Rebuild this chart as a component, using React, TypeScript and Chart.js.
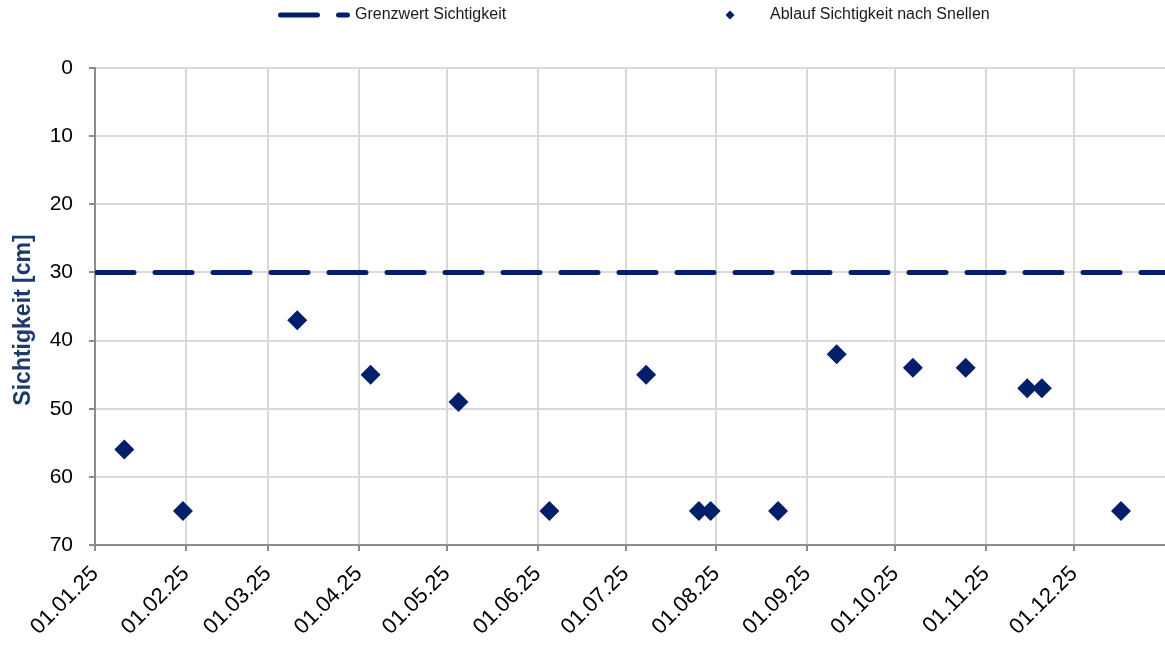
import React, { useEffect, useRef } from 'react';
import { Chart, registerables } from 'chart.js';

Chart.register(...registerables);

// Month starts used as x ticks and vertical grid lines
const monthTickDates = [
  '2025-01-01', '2025-02-01', '2025-03-01', '2025-04-01', '2025-05-01', '2025-06-01',
  '2025-07-01', '2025-08-01', '2025-09-01', '2025-10-01', '2025-11-01', '2025-12-01',
];
const monthTickLabels = [
  '01.01.25', '01.02.25', '01.03.25', '01.04.25', '01.05.25', '01.06.25',
  '01.07.25', '01.08.25', '01.09.25', '01.10.25', '01.11.25', '01.12.25',
];
const axisStart = '2025-01-01';
const axisEnd = '2026-01-01';

// Measurements (Snellen transparency)
const sampleDates = [
  '2025-01-11', '2025-01-31', '2025-03-11', '2025-04-05', '2025-05-05', '2025-06-05',
  '2025-07-08', '2025-07-26', '2025-07-30', '2025-08-22', '2025-09-11', '2025-10-07',
  '2025-10-25', '2025-11-15', '2025-11-20', '2025-12-17',
];
const visibilityCm = [56, 65, 37, 45, 49, 65, 45, 65, 65, 65, 42, 44, 44, 47, 47, 65];

// Threshold value
const limitCm = 30;

const yMin = 0;
const yMax = 70;
const yStep = 10;

const seriesNames = ['Grenzwert Sichtigkeit', 'Ablauf Sichtigkeit nach Snellen'];
const yTitle = 'Sichtigkeit [cm]';

const NAVY = '#031f6a';
const FONT = "'Liberation Sans', Arial, sans-serif";

const dayIndex = (iso: string) =>
  Math.round((Date.parse(iso + 'T00:00:00Z') - Date.parse(axisStart + 'T00:00:00Z')) / 86400000);

const monthDays = monthTickDates.map(dayIndex);

// Legend and y-axis title drawn at fixed spots
const decorations = {
  id: 'decorations',
  afterDraw(chart: Chart) {
    const ctx = chart.ctx;
    ctx.save();
    const y = 15;
    // dashed line sample
    ctx.strokeStyle = NAVY;
    ctx.lineWidth = 5;
    ctx.lineCap = 'round';
    ctx.setLineDash([37, 21]);
    ctx.beginPath();
    ctx.moveTo(280.5, y);
    ctx.lineTo(347.5, y);
    ctx.stroke();
    ctx.setLineDash([]);
    // diamond sample
    ctx.fillStyle = NAVY;
    ctx.beginPath();
    ctx.moveTo(730, y - 4.5);
    ctx.lineTo(734.5, y);
    ctx.lineTo(730, y + 4.5);
    ctx.lineTo(725.5, y);
    ctx.closePath();
    ctx.fill();
    // legend texts
    ctx.fillStyle = '#1a1a1a';
    ctx.font = `16px ${FONT}`;
    ctx.textBaseline = 'middle';
    ctx.textAlign = 'left';
    ctx.fillText(seriesNames[0], 355, y);
    ctx.fillText(seriesNames[1], 770, y);
    // y-axis title
    ctx.translate(24, 320);
    ctx.rotate(-Math.PI / 2);
    ctx.fillStyle = '#1d3a6c';
    ctx.font = `bold 23px ${FONT}`;
    ctx.textAlign = 'center';
    ctx.textBaseline = 'middle';
    ctx.fillText(yTitle, 0, 0);
    ctx.restore();
  },
};

export default function App() {
  const canvasRef = useRef<HTMLCanvasElement | null>(null);

  useEffect(() => {
    if (!canvasRef.current) return;
    const chart = new Chart(canvasRef.current, {
      type: 'scatter',
      data: {
        datasets: [
          {
            type: 'line',
            label: seriesNames[0],
            data: [
              { x: dayIndex(axisStart), y: limitCm },
              { x: dayIndex(axisEnd), y: limitCm },
            ],
            borderColor: NAVY,
            borderWidth: 5,
            borderDash: [37, 21],
            borderDashOffset: -2,
            borderCapStyle: 'round',
            pointRadius: 0,
            fill: false,
          },
          {
            label: seriesNames[1],
            data: sampleDates.map((d, i) => ({ x: dayIndex(d), y: visibilityCm[i] })),
            pointStyle: 'rectRot',
            pointRadius: 10,
            pointHoverRadius: 10,
            backgroundColor: NAVY,
            borderColor: NAVY,
            borderWidth: 0,
          },
        ],
      },
      options: {
        animation: false,
        responsive: true,
        maintainAspectRatio: false,
        layout: { autoPadding: false, padding: { top: 68, right: 0, bottom: 0, left: 0 } },
        plugins: {
          legend: { display: false },
          tooltip: { enabled: false },
        },
        scales: {
          x: {
            type: 'linear',
            min: dayIndex(axisStart),
            max: dayIndex(axisEnd),
            afterBuildTicks: (scale: any) => {
              scale.ticks = monthDays.map((v) => ({ value: v }));
            },
            afterFit: (scale: any) => {
              scale.height = 101;
              scale.paddingLeft = 0;
              scale.paddingRight = 0;
            },
            ticks: {
              autoSkip: false,
              minRotation: 45,
              maxRotation: 45,
              padding: 10,
              color: '#000',
              font: { family: FONT, size: 22 },
              callback: (value: any) => {
                const i = monthDays.indexOf(Number(value));
                return i >= 0 ? monthTickLabels[i] : '';
              },
            },
            grid: {
              color: '#d9d9d9',
              lineWidth: 2,
              tickColor: '#8c8c8c',
              tickLength: 6,
            },
            border: { color: '#8c8c8c', width: 2 },
          },
          y: {
            reverse: true,
            min: yMin,
            max: yMax,
            afterFit: (scale: any) => {
              scale.width = 95;
            },
            ticks: {
              stepSize: yStep,
              padding: 16,
              color: '#000',
              font: { family: FONT, size: 21 },
            },
            grid: {
              color: '#d9d9d9',
              lineWidth: 2,
              tickColor: '#8c8c8c',
              tickLength: 6,
            },
            border: { color: '#8c8c8c', width: 2 },
          },
        },
      },
      plugins: [decorations],
    } as any);
    return () => chart.destroy();
  }, []);

  return (
    <div style={{ position: 'fixed', left: 0, top: 0, width: 1165, height: 646, background: '#fff' }}>
      <canvas ref={canvasRef} />
    </div>
  );
}
